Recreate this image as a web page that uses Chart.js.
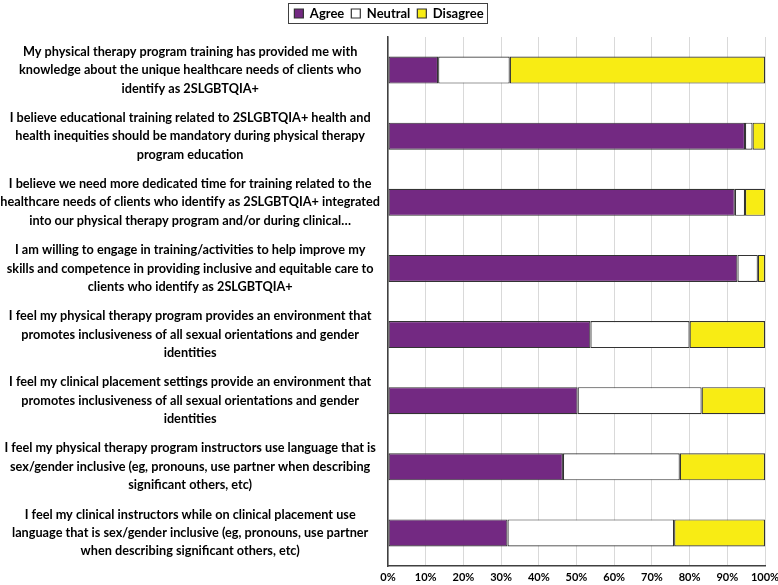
<!DOCTYPE html>
<html>
<head>
<meta charset="utf-8">
<script src="https://cdn.jsdelivr.net/npm/chart.js@4/dist/chart.umd.min.js"></script>
<style>
  html, body { margin: 0; padding: 0; background: #fff; }
  #wrap { width: 778px; height: 585px; }
</style>
</head>
<body>
<div id="wrap"><canvas id="surveyChart"></canvas></div>
<script>
const statements = [
  ["My physical therapy program training has provided me with", "knowledge about the unique healthcare needs of clients who", "identify as 2SLGBTQIA+"],
  ["I believe educational training related to 2SLGBTQIA+ health and", "health inequities should be mandatory during physical therapy", "program education"],
  ["I believe we need more dedicated time for training related to the", "healthcare needs of clients who identify as 2SLGBTQIA+ integrated", "into our physical therapy program and/or during clinical…"],
  ["I am willing to engage in training/activities to help improve my", "skills and competence in providing inclusive and equitable care to", "clients who identify as 2SLGBTQIA+"],
  ["I feel my physical therapy program provides an environment that", "promotes inclusiveness of all sexual orientations and gender", "identities"],
  ["I feel my clinical placement settings provide an environment that", "promotes inclusiveness of all sexual orientations and gender", "identities"],
  ["I feel my physical therapy program instructors use language that is", "sex/gender inclusive (eg, pronouns, use partner when describing", "significant others, etc)"],
  ["I feel my clinical instructors while on clinical placement use", "language that is sex/gender inclusive (eg, pronouns, use partner", "when describing significant others, etc)"]
];

const agree    = [13.3, 94.7, 92.0, 92.7, 53.7, 50.3, 46.4, 31.7];
const neutral  = [19.0,  2.0,  2.7,  5.4, 26.3, 32.9, 31.0, 44.2];
const disagree = [67.7,  3.3,  5.3,  1.9, 20.0, 16.8, 22.6, 24.1];

const tickValues = [0, 10, 20, 30, 40, 50, 60, 70, 80, 90, 100];

const fontFamily = "Lato, 'Open Sans', sans-serif";

// frame round the legend items, plus some space under the legend
const legendFrame = {
  id: "legendFrame",
  beforeInit(chart) {
    const legend = chart.legend;
    const origFit = legend.fit;
    legend.fit = function () {
      origFit.call(this);
      this.height += 7;
    };
  },
  afterDraw(chart) {
    const boxes = chart.legend.legendHitBoxes;
    if (!boxes || !boxes.length) return;
    let left = Infinity, right = -Infinity, top = Infinity, bottom = -Infinity;
    boxes.forEach(b => {
      left = Math.min(left, b.left);
      right = Math.max(right, b.left + b.width);
      top = Math.min(top, b.top);
      bottom = Math.max(bottom, b.top + b.height);
    });
    const c = chart.ctx;
    c.save();
    c.strokeStyle = "#404040";
    c.lineWidth = 1;
    c.strokeRect(Math.round(left - 6) + 0.5, Math.round(top - 4) + 0.5, Math.round(right - left + 10), Math.round(bottom - top + 7));
    c.restore();
  }
};

const ctx = document.getElementById("surveyChart").getContext("2d");

new Chart(ctx, {
  type: "bar",
  data: {
    labels: statements,
    datasets: [
      { label: "Agree", data: agree, backgroundColor: "#732982" },
      { label: "Neutral", data: neutral, backgroundColor: "#ffffff" },
      { label: "Disagree", data: disagree, backgroundColor: "#f8ec14" }
    ]
  },
  options: {
    indexAxis: "y",
    responsive: true,
    maintainAspectRatio: false,
    animation: false,
    layout: { padding: { top: 0, right: 0, left: 0, bottom: 0 } },
    datasets: {
      bar: {
        borderColor: "#333333",
        borderWidth: 1.2,
        borderSkipped: false,
        categoryPercentage: 1,
        barPercentage: 0.41
      }
    },
    scales: {
      x: {
        stacked: true,
        min: 0,
        max: 100,
        afterBuildTicks(axis) {
          axis.ticks = tickValues.map(v => ({ value: v }));
        },
        afterFit(axis) {
          axis.height = 19;
          axis.paddingRight = 13;
        },
        grid: { color: "#d9d9d9", drawTicks: false },
        border: { color: "#404040", width: 1.5 },
        ticks: {
          padding: 5,
          color: "#000",
          font: { family: fontFamily, size: 11, weight: "bold" },
          callback: v => v + "%"
        }
      },
      y: {
        stacked: true,
        grid: { display: false, drawTicks: false },
        border: { color: "#404040", width: 1.5 },
        afterFit(axis) {
          axis.width = 388;
          axis.paddingTop = 0;
          axis.paddingBottom = 0;
        },
        ticks: {
          crossAlign: "center",
          padding: 8,
          color: "#000",
          font: { family: fontFamily, size: 12.7, weight: "bold", lineHeight: 1.45 }
        }
      }
    },
    plugins: {
      legend: {
        position: "top",
        labels: {
          boxWidth: 9,
          boxHeight: 9,
          padding: 7,
          color: "#000",
          font: { family: fontFamily, size: 13, weight: "bold" }
        }
      },
      tooltip: { enabled: false }
    }
  },
  plugins: [legendFrame]
});
</script>
</body>
</html>
